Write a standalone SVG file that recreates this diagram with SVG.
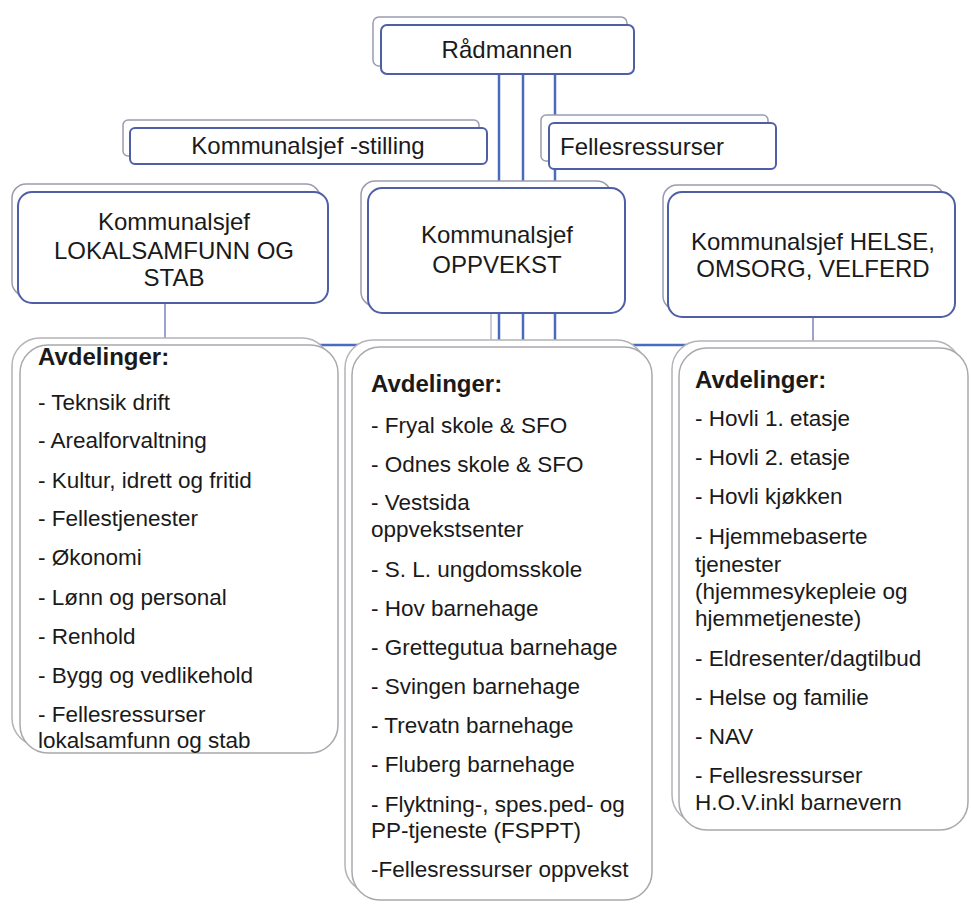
<svg xmlns="http://www.w3.org/2000/svg" width="971" height="905" viewBox="0 0 971 905">
<style>
.bg{fill:#ffffff}
.sh{fill:#ffffff;stroke:#9a9cb0;stroke-width:1.5}
.fr{fill:#ffffff;stroke:#4f5fa6;stroke-width:2}
.lsh{fill:#ffffff;stroke:#b4b4b8;stroke-width:1.5}
.lfr{fill:#ffffff;stroke:#a8a8ae;stroke-width:1.5}
.con{stroke:#4a6cc0;stroke-width:2.5;fill:none}
.con2{stroke:#7a84b8;stroke-width:1.5;fill:none}
.faint{stroke:#b8bccc;stroke-width:1.5;fill:none}
text{font-family:"Liberation Sans",Arial,sans-serif;fill:#1a1a1a}
.t{font-size:24px;text-anchor:middle}
.h{font-size:24px;font-weight:bold}
.i{font-size:22.5px}
</style>
<rect class="bg" x="0" y="0" width="971" height="905"/>
<g id="connectors">
  <line class="con" x1="499" y1="74" x2="499" y2="345"/>
  <line class="con" x1="523" y1="74" x2="523" y2="345"/>
  <line class="con" x1="555" y1="74" x2="555" y2="345"/>
  <line class="faint" x1="491" y1="313" x2="491" y2="345"/>
  <line class="con2" x1="165" y1="303" x2="165" y2="345"/>
  <line class="con2" x1="813" y1="317" x2="813" y2="345"/>
  <line class="con" x1="165" y1="345" x2="813" y2="345"/>
</g>
<g id="radmannen">
  <rect class="sh" x="373" y="17" width="254" height="49" rx="6"/>
  <rect class="fr" x="381" y="25" width="253" height="49" rx="6"/>
  <text class="t" x="507" y="58">Rådmannen</text>
</g>
<g id="kommunalsjef-stilling">
  <rect class="sh" x="123" y="120" width="356" height="36" rx="5"/>
  <rect class="fr" x="130" y="128" width="357" height="36" rx="5"/>
  <text class="t" x="308" y="154">Kommunalsjef -stilling</text>
</g>
<g id="fellesressurser">
  <rect class="sh" x="541" y="115" width="227" height="46" rx="5"/>
  <rect class="fr" x="549" y="123" width="227" height="46" rx="5"/>
  <text x="560" y="155" style="font-size:24px">Fellesressurser</text>
</g>
<g id="ks-lokalsamfunn">
  <rect class="sh" x="12" y="184" width="308" height="112" rx="14"/>
  <rect class="fr" x="18" y="192" width="310" height="111" rx="14"/>
  <text class="t" x="174" y="230">Kommunalsjef</text>
  <text class="t" x="174" y="259">LOKALSAMFUNN OG</text>
  <text class="t" x="174" y="286">STAB</text>
</g>
<g id="ks-oppvekst">
  <rect class="sh" x="361" y="181" width="250" height="125" rx="14"/>
  <rect class="fr" x="368" y="188" width="257" height="125" rx="14"/>
  <text class="t" x="497" y="243">Kommunalsjef</text>
  <text class="t" x="497" y="273">OPPVEKST</text>
</g>
<g id="ks-helse">
  <rect class="sh" x="663" y="185" width="281" height="125" rx="14"/>
  <rect class="fr" x="668" y="192" width="287" height="125" rx="14"/>
  <text class="t" x="813" y="250">Kommunalsjef HELSE,</text>
  <text class="t" x="813" y="277">OMSORG, VELFERD</text>
</g>
<g id="avd-lokalsamfunn">
  <rect class="lsh" x="12" y="338" width="318" height="408" rx="28"/>
  <rect class="lfr" x="20" y="345" width="318" height="408" rx="28"/>
  <text class="h" x="38" y="365">Avdelinger:</text>
  <text class="i" x="38" y="410">- Teknsik drift</text>
  <text class="i" x="38" y="448">- Arealforvaltning</text>
  <text class="i" x="38" y="488">- Kultur, idrett og fritid</text>
  <text class="i" x="38" y="526">- Fellestjenester</text>
  <text class="i" x="38" y="565">- Økonomi</text>
  <text class="i" x="38" y="605">- Lønn og personal</text>
  <text class="i" x="38" y="644">- Renhold</text>
  <text class="i" x="38" y="683">- Bygg og vedlikehold</text>
  <text class="i" x="38" y="722">- Fellesressurser</text>
  <text class="i" x="38" y="748">lokalsamfunn og stab</text>
</g>
<g id="avd-oppvekst">
  <rect class="lsh" x="345" y="340" width="300" height="553" rx="28"/>
  <rect class="lfr" x="352" y="347" width="300" height="553" rx="28"/>
  <text class="h" x="371" y="392">Avdelinger:</text>
  <text class="i" x="371" y="433">- Fryal skole &amp; SFO</text>
  <text class="i" x="371" y="472">- Odnes skole &amp; SFO</text>
  <text class="i" x="371" y="510">- Vestsida</text>
  <text class="i" x="371" y="537">oppvekstsenter</text>
  <text class="i" x="371" y="577">- S. L. ungdomsskole</text>
  <text class="i" x="371" y="616">- Hov barnehage</text>
  <text class="i" x="371" y="655">- Grettegutua barnehage</text>
  <text class="i" x="371" y="694">- Svingen barnehage</text>
  <text class="i" x="371" y="733">- Trevatn barnehage</text>
  <text class="i" x="371" y="772">- Fluberg barnehage</text>
  <text class="i" x="371" y="812">- Flyktning-, spes.ped- og</text>
  <text class="i" x="371" y="838">PP-tjeneste (FSPPT)</text>
  <text class="i" x="371" y="877">-Fellesressurser oppvekst</text>
</g>
<g id="avd-helse">
  <rect class="lsh" x="672" y="341" width="289" height="482" rx="28"/>
  <rect class="lfr" x="679" y="348" width="289" height="482" rx="28"/>
  <text class="h" x="695" y="388">Avdelinger:</text>
  <text class="i" x="695" y="426">- Hovli 1. etasje</text>
  <text class="i" x="695" y="465">- Hovli 2. etasje</text>
  <text class="i" x="695" y="504">- Hovli kjøkken</text>
  <text class="i" x="695" y="544">- Hjemmebaserte</text>
  <text class="i" x="695" y="572">tjenester</text>
  <text class="i" x="695" y="599">(hjemmesykepleie og</text>
  <text class="i" x="695" y="626">hjemmetjeneste)</text>
  <text class="i" x="695" y="666">- Eldresenter/dagtilbud</text>
  <text class="i" x="695" y="705">- Helse og familie</text>
  <text class="i" x="695" y="744">- NAV</text>
  <text class="i" x="695" y="783">- Fellesressurser</text>
  <text class="i" x="695" y="810">H.O.V.inkl barnevern</text>
</g>
</svg>
